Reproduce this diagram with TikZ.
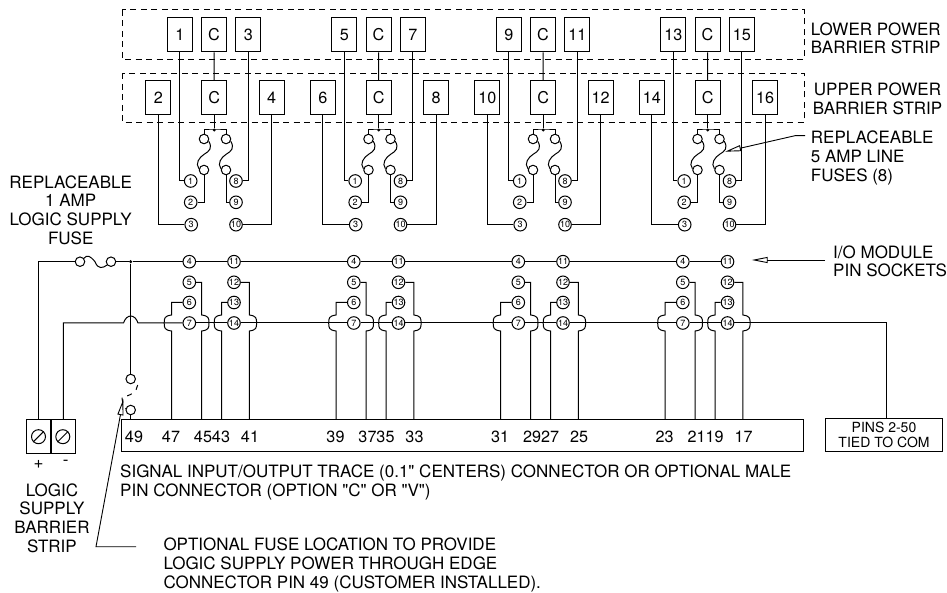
\documentclass[tikz,border=0pt]{standalone}
\usepackage{fontspec}
\setmainfont{TeX Gyre Heros}
\newfontfamily\quoteFont{TeX Gyre Heros}[Ligatures=NoCommon]
\usetikzlibrary{arrows.meta}

\newcommand{\bigSty}{\fontsize{17}{18.7}\selectfont}
\newcommand{\numSty}{\fontsize{16.2}{18}\selectfont}
\newcommand{\pinSty}{\fontsize{14}{15}\selectfont}
\newcommand{\socketSty}{\fontsize{9}{9}\selectfont}
\newcommand{\straightQuote}{{\quoteFont"}}
\newcommand{\hopRight}{.. controls +(7,1) and +(0,-5) .. ++(7.3,8) .. controls +(0,5) and +(7,-1) .. ++(-7.3,8)}
\newcommand{\hopLeft}{.. controls +(-7,1) and +(0,-5) .. ++(-7.3,8) .. controls +(0,5) and +(-7,-1) .. ++(7.3,8)}

\tikzset{
	wire/.style={line width=1pt},
	stripbox/.style={line width=1pt, dash pattern=on 6pt off 4.5pt},
	barrier/.style={draw, line width=1pt, minimum width=25pt, minimum height=34pt, inner sep=0pt, font=\numSty},
	socket/.style={draw, circle, line width=1pt, minimum size=12.6pt, inner sep=0pt, font=\socketSty},
	fuseend/.style={draw, circle, line width=1pt, minimum size=9.5pt, inner sep=0pt},
	junction/.style={fill, circle, minimum size=3.4pt, inner sep=0pt},
	textlabel/.style={inner sep=0pt, font=\bigSty},
	numlabel/.style={inner sep=0pt, font=\numSty},
	leader/.style={line width=0.9pt, -{Triangle[open, length=16pt, width=6pt]}},
}

% #1 name prefix, #2 shift, #3 first barrier number, #4 first edge pin
\newcommand{\moduleBlock}[4]{%
	\begin{scope}[xshift=#2pt]
		% lower barrier strip
		\node[barrier] (#1b1) at (179.8,35) {#3};
		\node[barrier] (#1bc) at (214,35) {C};
		\node[barrier] (#1b3) at (248.3,35) {\the\numexpr#3+2\relax};
		% upper barrier strip
		\node[barrier] (#1b2) at (158.3,98) {\the\numexpr#3+1\relax};
		\node[barrier] (#1bd) at (214.2,98) {C};
		\node[barrier] (#1b4) at (271.7,98) {\the\numexpr#3+3\relax};
		% line fuses
		\node[junction] (#1dot) at (214.2,130) {};
		\node[fuseend] (#1f1) at (204,139) {};
		\node[fuseend] (#1f2) at (204,170) {};
		\node[fuseend] (#1f3) at (226,139) {};
		\node[fuseend] (#1f4) at (226,170) {};
		% upper sockets
		\node[socket] (#1s1) at (190.7,181) {1};
		\node[socket] (#1s2) at (190.7,202.3) {2};
		\node[socket] (#1s3) at (191.2,224.7) {3};
		\node[socket] (#1s8) at (236,181) {8};
		\node[socket] (#1s9) at (236,202.3) {9};
		\node[socket] (#1s10) at (236,224.7) {10};
		% lower sockets
		\node[socket] (#1s4) at (189.3,261.7) {4};
		\node[socket] (#1s5) at (189.3,282.3) {5};
		\node[socket] (#1s6) at (189.3,302.5) {6};
		\node[socket] (#1s7) at (189.3,323) {7};
		\node[socket] (#1s11) at (234,261.7) {11};
		\node[socket] (#1s12) at (234,282.3) {12};
		\node[socket] (#1s13) at (234,302.5) {13};
		\node[socket] (#1s14) at (234,323) {14};
		% edge pin numbers
		\node[numlabel] (#1l1) at (171,436.7) {#4};
		\node[numlabel] (#1l2) at (203,436.7) {\the\numexpr#4-2\relax};
		\node[numlabel] (#1l3) at (221,436.7) {\the\numexpr#4-4\relax};
		\node[numlabel] (#1l4) at (250,436.7) {\the\numexpr#4-6\relax};
		% hop starts and pin ends
		\coordinate (#1h6) at (171.5,315);
		\coordinate (#1h5) at (201.7,315);
		\coordinate (#1h13) at (221.5,315);
		\coordinate (#1h12) at (249.3,315);
		\coordinate (#1p6) at (171.5,419);
		\coordinate (#1p5) at (201.7,419);
		\coordinate (#1p13) at (221.5,419);
		\coordinate (#1p12) at (249.3,419);
	\end{scope}
	% wires
	\draw[wire] (#1bc.south) -- (#1bd.north);
	\draw[wire] (#1bd.south) -- (#1dot);
	\draw[wire] (#1f1.north) |- (#1dot.center) -| (#1f3.north);
	\draw[wire] (#1b1.south) |- (#1s1.west);
	\draw[wire] (#1b3.south) |- (#1s8.east);
	\draw[wire] (#1b2.south) |- (#1s3.west);
	\draw[wire] (#1b4.south) |- (#1s10.east);
	\draw[wire] (#1f2.south) |- (#1s2.east);
	\draw[wire] (#1f4.south) |- (#1s9.west);
	\draw[wire] (#1f1.-25) .. controls +(4,7) and +(5,-3) .. ++(-4.5,13) .. controls +(-5,3) and +(-4,-5) .. (#1f2.165);
	\draw[wire] (#1f3.-25) .. controls +(4,7) and +(5,-3) .. ++(-4.5,13) .. controls +(-5,3) and +(-4,-5) .. (#1f4.165);
	\draw[wire] (#1s4.east) -- (#1s11.west);
	\draw[wire] (#1s7.east) -- (#1s14.west);
	\draw[wire] (#1s6.west) -| (#1h6) \hopLeft -- (#1p6);
	\draw[wire] (#1s5.east) -| (#1h5) \hopRight -- (#1p5);
	\draw[wire] (#1s13.west) -| (#1h13) \hopLeft -- (#1p13);
	\draw[wire] (#1s12.east) -| (#1h12) \hopRight -- (#1p12);
}

\begin{document}
\begin{tikzpicture}[x=1pt, y=-1pt]
	\useasboundingbox (0,0) rectangle (947,593);

	% barrier strip outlines
	\draw[stripbox] (122,10) rectangle (804,59.5);
	\draw[stripbox] (122,73.3) rectangle (804,122.3);

	% edge connector
	\draw[wire] (121.7,419) rectangle (803,451.7);
	\node[numlabel] (pin49) at (134,436.7) {49};

	% the four groups
	\moduleBlock{a}{0}{1}{47}
	\moduleBlock{b}{164.5}{5}{39}
	\moduleBlock{c}{329}{9}{31}
	\moduleBlock{d}{493.5}{13}{23}

	% logic supply barrier strip
	\node[draw, line width=1pt, minimum width=24.5pt, minimum height=34pt, inner sep=0pt] (tb1) at (38.7,436.3) {};
	\node[draw, line width=1pt, minimum width=24.5pt, minimum height=34pt, inner sep=0pt] (tb2) at (63.3,436.3) {};
	\node[draw, circle, line width=1pt, minimum size=14pt, inner sep=0pt] (ts1) at (38.5,436.7) {};
	\node[draw, circle, line width=1pt, minimum size=14pt, inner sep=0pt] (ts2) at (62.8,436.7) {};
	\draw[wire] (ts1.225) -- (ts1.45);
	\draw[wire] (ts2.225) -- (ts2.45);
	\node[textlabel] (plus) at (38.7,464) {+};
	\node[textlabel] (minus) at (65.7,463) {-};

	% logic supply fuse
	\node[fuseend] (lf1) at (80,261.7) {};
	\node[fuseend] (lf2) at (111,261.7) {};
	\node[junction] (busdot) at (130.7,261.7) {};
	\draw[wire] (tb1.north) |- (lf1.west);
	\draw[wire] (lf1.40) .. controls +(3,-4) and +(-5,-6) .. (95,261.7) .. controls +(3,8) and +(-4,3) .. (lf2.-140);
	\draw[wire] (lf2.east) -- (busdot) -- (as4.west);
	\draw[wire] (as11.east) -- (bs4.west);
	\draw[wire] (bs11.east) -- (cs4.west);
	\draw[wire] (cs11.east) -- (ds4.west);

	% optional fuse
	\node[fuseend] (of1) at (130.7,379) {};
	\node[fuseend] (of2) at (130.7,410) {};
	\coordinate (ofpin) at (130.7,419);
	\draw[wire] (busdot) -- (of1.north);
	\draw[wire] (of2.south) -- (ofpin);
	\draw[wire, dash pattern=on 5pt off 6pt] (137.7,385) .. controls (137,392) and (130,396) .. (122,397) .. controls (122,402) and (124,405) .. (of2.165);

	% common trace
	\coordinate (hopa) at (123.5,323);
	\coordinate (hopb) at (138,323);
	\node[draw, line width=1pt, minimum width=116.6pt, minimum height=33.4pt, inner sep=0pt, align=center, font=\pinSty] (pins) at (884,435) {PINS 2-50\\TIED TO COM};
	\coordinate (pinstop) at (886,418.3);
	\draw[wire] (tb2.north) |- (hopa) .. controls +(3,-9.3) and +(-3,-9.3) .. (hopb) -- (as7.west);
	\draw[wire] (as14.east) -- (bs7.west);
	\draw[wire] (bs14.east) -- (cs7.west);
	\draw[wire] (cs14.east) -- (ds7.west);
	\draw[wire] (ds14.east) -| (pinstop);

	% strip labels
	\node[textlabel, anchor=west, align=left] (lowerlbl) at (810.7,38.3) {LOWER POWER\\BARRIER STRIP};
	\node[textlabel, align=center] (upperlbl) at (877.5,99) {UPPER POWER\\BARRIER STRIP};

	% fuse labels
	\node[textlabel, align=center] (logicfuse) at (70.7,210) {REPLACEABLE\\1 AMP\\LOGIC SUPPLY\\FUSE};
	\node[textlabel, anchor=west, align=left] (linefuse) at (810.7,158) {REPLACEABLE\\5 AMP LINE\\FUSES (8)};
	\coordinate (linefusea) at (805,135.7);
	\coordinate (linefuseb) at (795,135.7);
	\coordinate (linefusetip) at (725,151.7);
	\draw[leader] (linefusea) -- (linefuseb) -- (linefusetip);

	% socket label
	\node[textlabel, anchor=west, align=left] (socketlbl) at (833,261.2) {I/O MODULE\\PIN SOCKETS};
	\coordinate (socketa) at (825,260);
	\coordinate (sockettip) at (751.7,260);
	\draw[leader] (socketa) -- (sockettip);

	% bottom labels
	\node[textlabel, align=center] (supplylbl) at (52,518) {LOGIC\\SUPPLY\\BARRIER\\STRIP};
	\node[textlabel, anchor=west, align=left] (tracelbl) at (120,482.3) {SIGNAL INPUT/OUTPUT TRACE (0.1\straightQuote{} CENTERS) CONNECTOR OR OPTIONAL MALE\\PIN CONNECTOR (OPTION \straightQuote{}C\straightQuote{} OR \straightQuote{}V\straightQuote{})};
	\node[textlabel, anchor=west, align=left] (optlbl) at (163.3,565) {OPTIONAL FUSE LOCATION TO PROVIDE\\LOGIC SUPPLY POWER THROUGH EDGE\\CONNECTOR PIN 49 (CUSTOMER INSTALLED).};
	\coordinate (opta) at (136,546.7);
	\coordinate (optb) at (96,546.7);
	\coordinate (opttip) at (123.3,399.3);
	\draw[leader] (opta) -- (optb) -- (opttip);

\end{tikzpicture}
\end{document}
